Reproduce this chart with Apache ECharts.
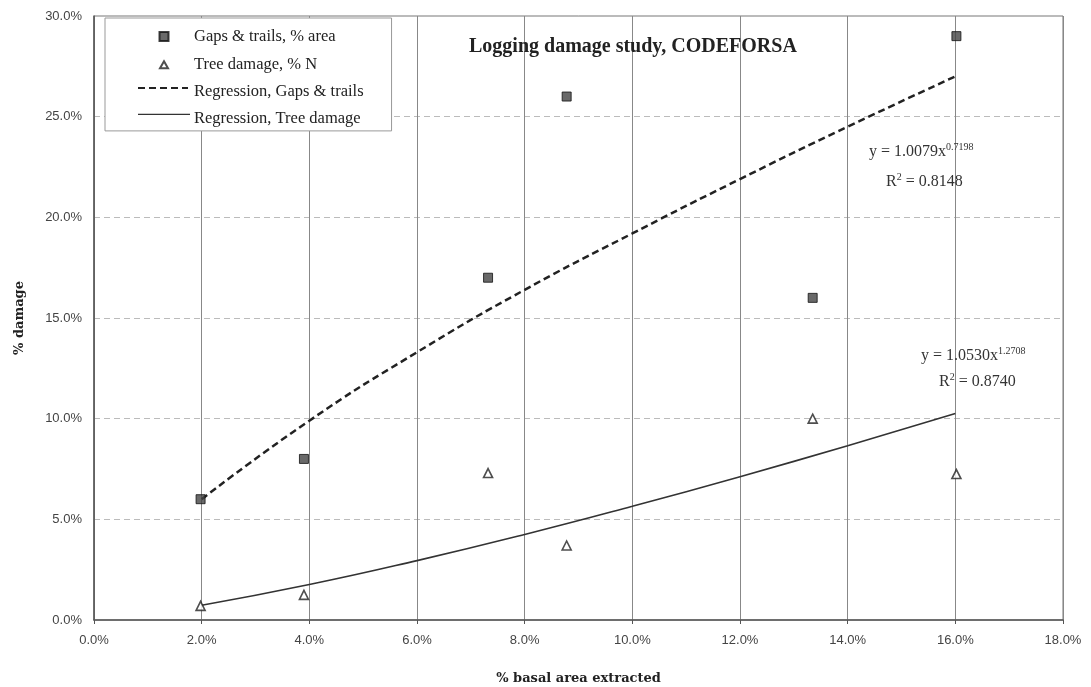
<!DOCTYPE html>
<html><head><meta charset="utf-8">
<script src="https://cdn.jsdelivr.net/npm/echarts/dist/echarts.min.js"></script>
<style>html,body{margin:0;padding:0;background:#fff}#c{width:1091px;height:687px}</style>
</head><body><div id="c"></div>
<script>
// Observed points (% basal area extracted, % damage)
const gapsX = [1.98, 3.9, 7.32, 8.78, 13.35, 16.02];
const gapsY = [6.0, 8.0, 17.0, 26.0, 16.0, 29.0];
const treeX = [1.98, 3.9, 7.32, 8.78, 13.35, 16.02];
const treeY = [0.7, 1.25, 7.3, 3.7, 10.0, 7.25];
// Regression curves
const regX = [2, 4, 6, 8, 10, 12, 14, 16];
const regGapsY = [6.0, 9.9, 13.3, 16.4, 19.2, 21.9, 24.5, 27.0];
const regTreeY = [0.73, 1.76, 2.95, 4.25, 5.65, 7.12, 8.66, 10.26];
const seriesNames = ['Gaps & trails, % area', 'Tree damage, % N', 'Regression, Gaps & trails', 'Regression, Tree damage'];
const titleText = 'Logging damage study, CODEFORSA';
const xName = '% basal area extracted';
const yName = '% damage';
const eq1 = ['1.0079', '0.7198', '0.8148'];
const eq2 = ['1.0530', '1.2708', '0.8740'];

const zip = (xs, ys) => xs.map((x, i) => [x, ys[i]]);
const serif = '"Liberation Serif","Times New Roman",serif';
const wideSerif = '"DejaVu Serif",serif';
const sans = '"Liberation Sans",Arial,sans-serif';
const pct = v => v.toFixed(1) + '%';

const chart = echarts.init(document.getElementById('c'), null, {renderer: 'canvas'});
const eqRich = {
  sup: {fontFamily: serif, fontSize: 10, color: '#333', verticalAlign: 'top', padding: [0, 0, 9, 0]}
};
const sqIcon = 'path://M0 0M50 17M20.5 4h9v9h-9z';
const triIcon = 'path://M0 0M50 17M25 5L29 12L21 12Z';
// legend geometry (shared by legend and its line keys)
const LEG_LEFT = 105, LEG_TOP = 18, LEG_PAD = [9, 28, 4, 33], ITEM_W = 50, ITEM_H = 17, ITEM_GAP = 9.3;
const keyY = i => LEG_TOP + LEG_PAD[0] + ITEM_H / 2 + i * (ITEM_H + ITEM_GAP);
const keyX0 = LEG_LEFT + LEG_PAD[3];

chart.setOption({
  animation: false,
  backgroundColor: '#fff',
  title: {text: titleText, left: 464, top: 32,
    textStyle: {fontFamily: serif, fontWeight: 'bold', fontSize: 20, color: '#222'}},
  grid: {left: 94, right: 28, top: 16, bottom: 67, show: true, borderColor: '#777', borderWidth: 1,
    containLabel: false, outerBoundsMode: 'none'},
  legend: {
    orient: 'vertical', left: LEG_LEFT, top: LEG_TOP,
    padding: LEG_PAD,
    itemWidth: ITEM_W, itemHeight: ITEM_H, itemGap: ITEM_GAP,
    backgroundColor: '#fff', borderColor: '#999', borderWidth: 1,
    textStyle: {fontFamily: serif, fontSize: 16.5, color: '#222'},
    data: [
      {name: seriesNames[0], icon: sqIcon},
      {name: seriesNames[1], icon: triIcon},
      {name: seriesNames[2], icon: 'none'},
      {name: seriesNames[3], icon: 'none'}
    ]
  },
  xAxis: {type: 'value', min: 0, max: 18, interval: 2,
    name: xName, nameLocation: 'middle', nameGap: 52,
    nameTextStyle: {fontFamily: wideSerif, fontWeight: 'bold', fontSize: 13, color: '#222'},
    axisLine: {lineStyle: {color: '#555', width: 1.5}},
    axisTick: {show: true, length: 4, lineStyle: {color: '#555'}},
    axisLabel: {formatter: pct, fontFamily: sans, fontSize: 13, color: '#444', margin: 14},
    splitLine: {show: true, lineStyle: {color: '#888', width: 1}}
  },
  yAxis: {type: 'value', min: 0, max: 30, interval: 5,
    name: yName, nameLocation: 'middle', nameGap: 68, nameRotate: 90,
    nameTextStyle: {fontFamily: wideSerif, fontWeight: 'bold', fontSize: 13, color: '#222'},
    axisLine: {show: true, lineStyle: {color: '#555', width: 1.5}},
    axisTick: {show: false},
    axisLabel: {formatter: pct, fontFamily: sans, fontSize: 13, color: '#444', margin: 12},
    splitLine: {show: true, lineStyle: {color: '#bbb', width: 1, type: [6, 4]}}
  },
  series: [
    {name: seriesNames[0], type: 'scatter', data: zip(gapsX, gapsY), symbol: 'rect', symbolSize: 9,
      itemStyle: {color: '#444', borderColor: '#111', borderWidth: 1}, z: 5},
    {name: seriesNames[1], type: 'scatter', data: zip(treeX, treeY), symbol: 'triangle', symbolSize: 9,
      itemStyle: {color: '#fff', borderColor: '#222', borderWidth: 1.6}, z: 5},
    {name: seriesNames[2], type: 'line', data: zip(regX, regGapsY), smooth: true, symbol: 'none',
      lineStyle: {color: '#222', width: 2.5, type: [7, 4]}, itemStyle: {color: '#222'}},
    {name: seriesNames[3], type: 'line', data: zip(regX, regTreeY), smooth: true, symbol: 'none',
      lineStyle: {color: '#333', width: 1.6, type: 'solid'}, itemStyle: {color: '#333'}}
  ],
  graphic: [
    {type: 'line', z: 100, shape: {x1: keyX0, y1: keyY(2), x2: keyX0 + ITEM_W, y2: keyY(2)},
      style: {stroke: '#222', lineWidth: 2, lineDash: [7, 4]}},
    {type: 'line', z: 100, shape: {x1: keyX0, y1: keyY(3), x2: keyX0 + ITEM_W + 2, y2: keyY(3)},
      style: {stroke: '#333', lineWidth: 1.4}},
    {type: 'text', left: 869, top: 142, z: 10, style: {text: 'y = ' + eq1[0] + 'x{sup|' + eq1[1] + '}', rich: eqRich, font: '16px ' + serif, fill: '#333'}},
    {type: 'text', left: 886, top: 172, z: 10, style: {text: 'R{sup|2} = ' + eq1[2], rich: eqRich, font: '16px ' + serif, fill: '#333'}},
    {type: 'text', left: 921, top: 346, z: 10, style: {text: 'y = ' + eq2[0] + 'x{sup|' + eq2[1] + '}', rich: eqRich, font: '16px ' + serif, fill: '#333'}},
    {type: 'text', left: 939, top: 372, z: 10, style: {text: 'R{sup|2} = ' + eq2[2], rich: eqRich, font: '16px ' + serif, fill: '#333'}}
  ]
});
</script></body></html>
